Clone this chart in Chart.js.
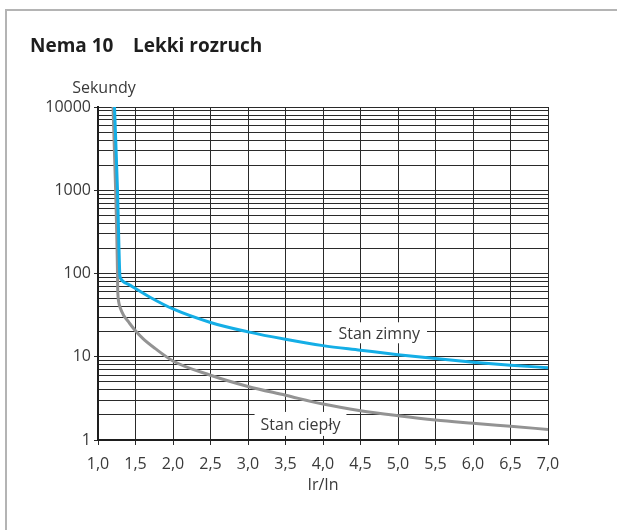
<!DOCTYPE html>
<html>
<head>
<meta charset="utf-8">
<script src="https://cdn.jsdelivr.net/npm/chart.js@4"></script>
<style>
  html, body { margin: 0; padding: 0; background: #fff; }
  #wrap { position: relative; width: 617px; height: 530px; overflow: hidden; }
  #frame { position: absolute; left: 5px; top: 9px; width: 700px; height: 600px;
           border-left: 2px solid #b4b4b4; border-top: 2px solid #b4b4b4; }
  canvas { position: absolute; left: 0; top: 0; }
</style>
</head>
<body>
<div id="wrap">
  <div id="frame"></div>
  <canvas id="c" width="617" height="530"></canvas>
</div>
<script>
// Tripping curve: Nema class 10, light start
const titleMain = 'Nema 10';
const titleSub = 'Lekki rozruch';
const yAxisTitle = 'Sekundy';
const xAxisTitle = 'Ir/In';

// Current ratio Ir/In (x) against trip time in seconds (y)
const coldLabel = 'Stan zimny';
const coldX = [1.22, 1.26, 1.29, 1.295, 1.31, 1.34, 1.4, 1.5, 1.7, 2.0, 2.5, 3.0, 3.5, 4.0, 4.5, 5.0, 5.5, 6.0, 6.5, 7.0];
const coldY = [10000, 1000, 100, 91, 85, 79.5, 74.5, 66, 51.5, 37.5, 25.8, 19.9, 16.2, 13.6, 12, 10.6, 9.5, 8.6, 7.9, 7.4];

const warmLabel = 'Stan ciepły';
const warmX = [1.2, 1.235, 1.26, 1.262, 1.266, 1.275, 1.3, 1.341, 1.41, 1.5, 1.6, 1.76, 2.0, 2.5, 3.0, 3.5, 4.0, 4.5, 5.0, 5.5, 6.0, 6.5, 7.0];
const warmY = [10000, 1000, 100, 70, 55, 46, 38, 31.6, 26, 20.5, 16.5, 12.6, 8.9, 6.0, 4.4, 3.45, 2.7, 2.25, 1.96, 1.74, 1.59, 1.46, 1.34];

// Axis ticks
const xTickValues = [1.0, 1.5, 2.0, 2.5, 3.0, 3.5, 4.0, 4.5, 5.0, 5.5, 6.0, 6.5, 7.0];
const xTickLabels = ['1,0', '1,5', '2,0', '2,5', '3,0', '3,5', '4,0', '4,5', '5,0', '5,5', '6,0', '6,5', '7,0'];
const yDecades = [1, 10, 100, 1000, 10000];
const yDecadeLabels = ['1', '10', '100', '1000', '10000'];

const FONT = "'Open Sans', 'DejaVu Sans', sans-serif";
const INK = '#3a3a3a';
const GRID = '#2a2a2a';

// log grid: every integer multiple within each decade
function logGridValues() {
  const vals = [];
  for (let d = 0; d < yDecades.length - 1; d++) {
    for (let m = 1; m <= 9; m++) vals.push(yDecades[d] * m);
  }
  vals.push(yDecades[yDecades.length - 1]);
  return vals;
}

const toPoints = (xs, ys) => xs.map((x, i) => ({ x, y: ys[i] }));

// curve labels on white boxes, and the heading texts
const textPlugin = {
  id: 'chartTexts',
  beforeDatasetsDraw(chart, args, opts) {
    const { ctx, scales } = chart;
    ctx.save();
    ctx.font = '16px ' + FONT;
    opts.curveLabels.forEach(l => {
      const cx = scales.x.getPixelForValue(l.x);
      const cy = scales.y.getPixelForValue(l.y);
      const w = ctx.measureText(l.text).width + 2 * l.padX;
      ctx.fillStyle = '#fff';
      ctx.fillRect(cx - w / 2, cy - l.h / 2, w, l.h);
      ctx.fillStyle = INK;
      ctx.textAlign = 'center';
      ctx.textBaseline = 'alphabetic';
      ctx.fillText(l.text, cx, cy + 6);
    });
    ctx.restore();
  },
  afterDraw(chart) {
    const { ctx } = chart;
    ctx.save();
    ctx.fillStyle = '#1e1e1e';
    ctx.font = 'bold 19px ' + FONT;
    ctx.textBaseline = 'alphabetic';
    ctx.textAlign = 'left';
    ctx.fillText(titleMain, 30, 52);
    ctx.fillText(titleSub, 133, 52);
    ctx.fillStyle = INK;
    ctx.font = '16px ' + FONT;
    ctx.textAlign = 'center';
    ctx.fillText(yAxisTitle, 104, 93);
    ctx.restore();
  }
};

new Chart(document.getElementById('c'), {
  type: 'line',
  data: {
    datasets: [
      {
        label: coldLabel,
        data: toPoints(coldX, coldY),
        borderColor: '#14aee6',
        borderWidth: 3,
        pointRadius: 0,
        cubicInterpolationMode: 'monotone',
        fill: false
      },
      {
        label: warmLabel,
        data: toPoints(warmX, warmY),
        borderColor: '#939393',
        borderWidth: 3,
        pointRadius: 0,
        cubicInterpolationMode: 'monotone',
        fill: false
      }
    ]
  },
  options: {
    responsive: false,
    animation: false,
    events: [],
    layout: { padding: { left: 0, right: 69, top: 107, bottom: 31 } },
    plugins: {
      legend: { display: false },
      tooltip: { enabled: false },
      chartTexts: {
        curveLabels: [
          { text: coldLabel, x: 4.75, y: 19.4, padX: 7, h: 21 },
          { text: warmLabel, x: 3.70, y: 1.56, padX: 6, h: 24 }
        ]
      }
    },
    scales: {
      x: {
        type: 'linear',
        min: 1,
        max: 7,
        afterBuildTicks: s => { s.ticks = xTickValues.map(v => ({ value: v })); },
        afterFit: s => { s.height = 59; },
        ticks: {
          autoSkip: false,
          maxRotation: 0,
          padding: 10,
          color: INK,
          font: { family: FONT, size: 16 },
          callback: (v, i) => xTickLabels[i]
        },
        grid: { color: GRID, lineWidth: 1, tickLength: 5, tickColor: GRID },
        border: { color: '#1e1e1e', width: 2 },
        title: {
          display: true,
          text: xAxisTitle,
          color: INK,
          font: { family: FONT, size: 16 },
          padding: { top: 0, bottom: 4 }
        }
      },
      y: {
        type: 'logarithmic',
        min: 1,
        max: 10000,
        afterBuildTicks: s => { s.ticks = logGridValues().map(v => ({ value: v })); },
        afterFit: s => { s.width = 98; },
        ticks: {
          autoSkip: false,
          padding: 3,
          color: INK,
          font: { family: FONT, size: 16 },
          callback: v => {
            const k = yDecades.indexOf(v);
            return k >= 0 ? yDecadeLabels[k] : '';
          }
        },
        grid: {
          color: GRID,
          lineWidth: 1,
          tickLength: 4,
          tickColor: c => (yDecades.indexOf(c.tick && c.tick.value) >= 0 ? GRID : 'rgba(0,0,0,0)')
        },
        border: { color: '#1e1e1e', width: 2 }
      }
    }
  },
  plugins: [textPlugin]
});
</script>
</body>
</html>
